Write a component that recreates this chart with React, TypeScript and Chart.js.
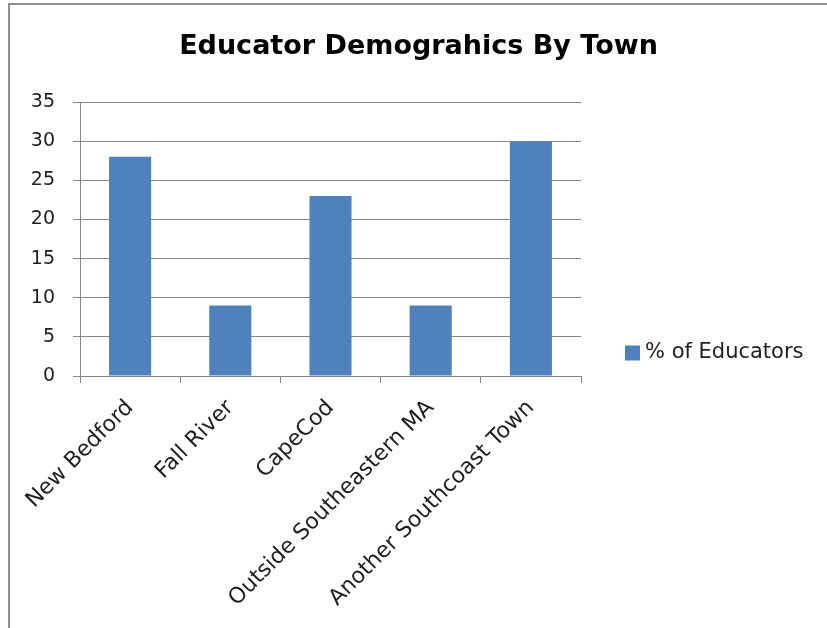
import React, { useEffect, useRef } from "react";
import { Chart, registerables } from "chart.js";

Chart.register(...registerables);

const categories = ["New Bedford", "Fall River", "CapeCod", "Outside Southeastern MA", "Another Southcoast Town"];
const seriesLabel = "% of Educators";
const values = [28, 9, 23, 9, 30];
const titleText = "Educator Demograhics By Town";
const yMin = 0;
const yMax = 35;
const yStep = 5;

const BAR = "#4f81bd";
const GRID = "#868686";
const TEXT = "#1e1e1e";
const FONT = "'DejaVu Sans', 'Open Sans', sans-serif";

const legendPlugin = {
  id: "sideLegend",
  afterDraw(chart: any) {
    const ctx = chart.ctx;
    const area = chart.chartArea;
    const ds = chart.data.datasets[0];
    const x = area.right + 44;
    const y = area.top + 251;
    ctx.save();
    ctx.fillStyle = ds.backgroundColor;
    ctx.fillRect(x, y - 7.5, 15, 15);
    ctx.fillStyle = TEXT;
    ctx.font = `21px ${FONT}`;
    ctx.textBaseline = "middle";
    ctx.textAlign = "left";
    ctx.fillText(ds.label, x + 20, y);
    ctx.restore();
  },
};

export default function App() {
  const ref = useRef<HTMLCanvasElement>(null);
  useEffect(() => {
    if (!ref.current) return;
    const chart = new Chart(ref.current, {
      type: "bar",
      data: {
        labels: categories,
        datasets: [
          {
            label: seriesLabel,
            data: values,
            backgroundColor: BAR,
            borderWidth: 0,
            categoryPercentage: 1,
            barPercentage: 0.42,
          },
        ],
      },
      options: {
        responsive: false,
        animation: false,
        layout: { padding: 0 },
        plugins: {
          legend: { display: false },
          tooltip: { enabled: false },
          title: {
            display: true,
            text: titleText,
            color: "#000",
            font: { family: FONT, size: 27, weight: "bold" },
            padding: { top: 26, bottom: 38.6 },
          },
        },
        scales: {
          x: {
            grid: {
              display: true,
              offset: true,
              drawOnChartArea: false,
              drawTicks: true,
              tickLength: 7,
              color: GRID,
            },
            border: { display: true, color: GRID, width: 1 },
            ticks: {
              color: TEXT,
              font: { family: FONT, size: 22 },
              maxRotation: 45,
              minRotation: 45,
              autoSkip: false,
              padding: 12,
            },
            afterFit: (s: any) => {
              s.height = 252;
            },
          },
          y: {
            min: yMin,
            max: yMax,
            ticks: {
              stepSize: yStep,
              color: TEXT,
              font: { family: FONT, size: 19 },
              padding: 18,
            },
            grid: { color: GRID, tickLength: 7 },
            border: { display: true, color: GRID, width: 1 },
            afterFit: (s: any) => {
              s.width = 70;
            },
          },
          spacer: {
            type: "linear",
            position: "right",
            display: true,
            grid: { display: false },
            ticks: { display: false },
            border: { display: false },
            afterFit: (s: any) => {
              s.width = 246;
            },
          },
        },
      },
      plugins: [legendPlugin],
    } as any);
    return () => chart.destroy();
  }, []);

  return (
    <div style={{ position: "absolute", left: 0, top: 0, width: 827, height: 628, background: "#fff" }}>
      <div
        style={{
          position: "absolute",
          left: 8,
          top: 3,
          width: 819,
          height: 625,
          borderTop: "2px solid #8e8e8e",
          borderLeft: "2px solid #8e8e8e",
          boxSizing: "border-box",
        }}
      />
      <canvas
        ref={ref}
        width={817}
        height={623}
        style={{ position: "absolute", left: 10, top: 5, width: 817, height: 623 }}
      />
    </div>
  );
}
